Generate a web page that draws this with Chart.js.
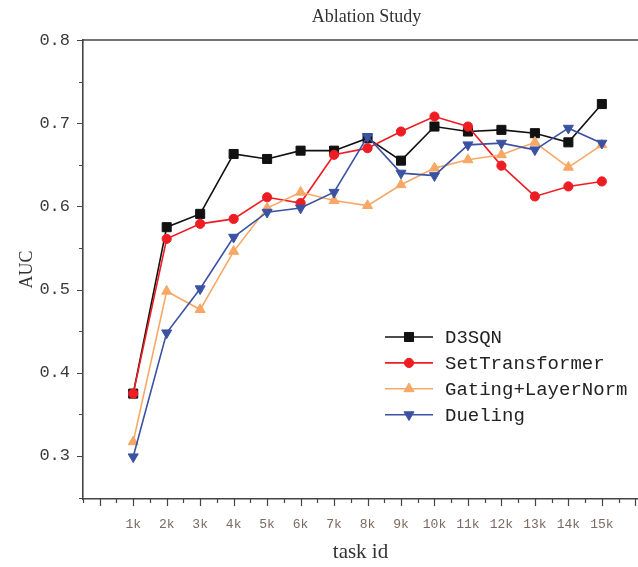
<!DOCTYPE html>
<html>
<head>
<meta charset="utf-8">
<title>Ablation Study</title>
<script src="https://cdn.jsdelivr.net/npm/chart.js@4.4.1/dist/chart.umd.min.js"></script>
<style>
  html, body { margin: 0; padding: 0; background: #fff; }
  #chart { display: block; }
</style>
</head>
<body>
<canvas id="chart" width="638" height="567"></canvas>
<script>
// task ids (in thousands) and AUC per variant
const taskIds = [1, 2, 3, 4, 5, 6, 7, 8, 9, 10, 11, 12, 13, 14, 15];
const d3sqn = [0.375, 0.575, 0.591, 0.663, 0.657, 0.667, 0.667, 0.682, 0.655, 0.696, 0.690, 0.692, 0.688, 0.677, 0.723];
const setTransformer = [0.375, 0.561, 0.579, 0.585, 0.611, 0.604, 0.662, 0.670, 0.690, 0.708, 0.696, 0.649, 0.612, 0.624, 0.630];
const gatingLayerNorm = [0.317, 0.498, 0.476, 0.546, 0.598, 0.617, 0.607, 0.601, 0.626, 0.646, 0.656, 0.662, 0.677, 0.647, 0.674];
const dueling = [0.299, 0.448, 0.501, 0.563, 0.593, 0.598, 0.617, 0.684, 0.640, 0.637, 0.674, 0.676, 0.668, 0.694, 0.676];
const yTickValues = [0.3, 0.4, 0.5, 0.6, 0.7, 0.8];

const axisColor = '#444';
const toPoints = (arr) => arr.map((v, i) => ({ x: taskIds[i], y: v }));

function series(label, values, color, style, radius, rotation, order) {
    return {
        label: label,
        data: toPoints(values),
        borderColor: color,
        backgroundColor: color,
        borderWidth: 1.6,
        pointStyle: style,
        pointRadius: radius,
        pointHoverRadius: radius,
        pointRotation: rotation,
        pointBorderWidth: 1,
        pointBorderColor: color,
        pointBackgroundColor: color,
        order: order,
        tension: 0
    };
}

// title, frame, tick marks and the inset legend
const decorations = {
    id: 'decorations',
    afterDraw(chart) {
        const { ctx, chartArea: a, scales: { x, y } } = chart;
        ctx.save();

        // top frame line
        ctx.strokeStyle = axisColor;
        ctx.lineWidth = 1.6;
        ctx.beginPath();
        ctx.moveTo(a.left, a.top);
        ctx.lineTo(a.right, a.top);
        ctx.stroke();

        // tick marks (major + minor)
        ctx.lineWidth = 1.2;
        ctx.beginPath();
        for (let i = 0; i <= 11; i++) {
            const v = 0.25 + i * 0.05;
            const py = Math.round(y.getPixelForValue(v)) + 0.5;
            const len = (i % 2 === 1) ? 6 : 4;
            ctx.moveTo(a.left, py);
            ctx.lineTo(a.left - len, py);
        }
        for (let i = 0; i <= 33; i++) {
            const v = -0.5 + i * 0.5;
            const px = Math.round(x.getPixelForValue(v)) + 0.5;
            const len = (i % 2 === 1) ? 7 : 4;
            ctx.moveTo(px, a.bottom);
            ctx.lineTo(px, a.bottom + len);
        }
        ctx.stroke();

        // title
        ctx.fillStyle = '#333';
        ctx.font = '18px "Liberation Serif", serif';
        ctx.textAlign = 'center';
        ctx.textBaseline = 'middle';
        ctx.fillText('Ablation Study', (a.left + a.right) / 2 + 6, 17);

        // legend
        const rows = [0, 1, 2, 3];
        ctx.font = '19px "Liberation Mono", monospace';
        ctx.textAlign = 'left';
        rows.forEach((i) => {
            const ds = chart.data.datasets[i];
            const ly = 337 + i * 25.9;
            ctx.strokeStyle = ds.borderColor;
            ctx.lineWidth = 1.6;
            ctx.beginPath();
            ctx.moveTo(385, ly);
            ctx.lineTo(433, ly);
            ctx.stroke();
            ctx.fillStyle = ds.backgroundColor;
            ctx.lineWidth = 1;
            Chart.helpers.drawPoint(ctx, {
                pointStyle: ds.pointStyle,
                radius: ds.pointRadius,
                rotation: ds.pointRotation,
                borderWidth: 1
            }, 409, ly);
            ctx.fillStyle = '#222';
            ctx.fillText(ds.label, 445, ly + 1);
        });
        ctx.restore();
    }
};

const ctx = document.getElementById('chart').getContext('2d');
new Chart(ctx, {
    type: 'line',
    data: {
        datasets: [
            series('D3SQN', d3sqn, '#111111', 'rect', 6.4, 0, 4),
            series('SetTransformer', setTransformer, '#ee1d23', 'circle', 4.6, 0, 3),
            series('Gating+LayerNorm', gatingLayerNorm, '#f7a766', 'triangle', 5.8, 0, 2),
            series('Dueling', dueling, '#3b52a3', 'triangle', 5.8, 180, 1)
        ]
    },
    options: {
        responsive: false,
        animation: false,
        devicePixelRatio: 1,
        layout: { autoPadding: false, padding: { top: 40, left: 0, right: 0, bottom: 0 } },
        plugins: {
            legend: { display: false },
            tooltip: { enabled: false },
            title: { display: false }
        },
        scales: {
            x: {
                type: 'linear',
                min: -0.5,
                max: 16.08,
                grid: { display: false, drawTicks: false },
                border: { display: true, color: axisColor, width: 1.6 },
                afterBuildTicks: (scale) => { scale.ticks = taskIds.map(v => ({ value: v })); },
                afterFit: (scale) => { scale.height = 68; },
                ticks: {
                    autoSkip: false,
                    maxRotation: 0,
                    padding: 18,
                    color: '#7b6a63',
                    font: { family: '"Liberation Mono", monospace', size: 13 },
                    callback: (v) => v + 'k'
                },
                title: {
                    display: true,
                    text: 'task id',
                    color: '#333',
                    font: { family: '"Liberation Serif", serif', size: 21 },
                    padding: { top: 0, bottom: 2 }
                }
            },
            y: {
                min: 0.2483,
                max: 0.8,
                grid: { display: false, drawTicks: false },
                border: { display: true, color: axisColor, width: 1.6 },
                afterBuildTicks: (scale) => { scale.ticks = yTickValues.map(v => ({ value: v })); },
                afterFit: (scale) => { scale.width = 83; },
                ticks: {
                    padding: 13,
                    color: '#3a3a3a',
                    font: { family: '"Liberation Mono", monospace', size: 17 },
                    callback: (v) => v.toFixed(1)
                },
                title: {
                    display: true,
                    text: 'AUC',
                    color: '#333',
                    font: { family: '"Liberation Serif", serif', size: 18 },
                    padding: { top: 16, bottom: 0 }
                }
            }
        }
    },
    plugins: [decorations]
});
</script>
</body>
</html>
